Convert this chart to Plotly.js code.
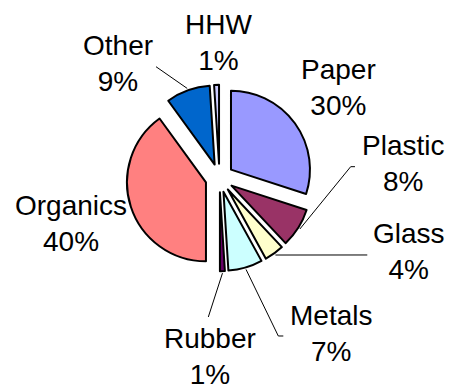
<!DOCTYPE html>
<html>
<head>
<meta charset="utf-8">
<script src="https://cdn.plot.ly/plotly-3.0.1.min.js"></script>
<style>
  html, body { margin: 0; padding: 0; background: #ffffff; }
  #chart { width: 451px; height: 390px; }
</style>
</head>
<body>
<div id="chart"></div>
<script>
// Waste composition by material (percent of total)
const categories = ['Paper', 'Plastic', 'Glass', 'Metals', 'Rubber', 'Organics', 'Other', 'HHW'];
const shares = [30, 8, 4, 7, 1, 40, 9, 1];

// Slice fills, in the same order as the categories
const palette = ['#9999FF', '#993366', '#FFFFCC', '#CCFFFF', '#660066', '#FF8080', '#0066CC', '#CCCCFF'];

const W = 451, H = 390;
const domX = [0.2800, 0.6933];
const domY = [0.3046, 0.7826];
const explode = 0.18;

// Label centres in pixels
const labelPos = {
  HHW: [218, 42],
  Paper: [338, 88],
  Other: [118, 64],
  Organics: [71, 223],
  Plastic: [403, 163],
  Glass: [409, 251],
  Metals: [331, 333],
  Rubber: [210, 356]
};

// Leader lines: points leading away from the slice toward its label (pixels)
const leaderPath = {
  Other: [[156, 66.7]],
  Plastic: [[350.7, 166.7], [355, 166.7]],
  Glass: [[367.3, 255]],
  Metals: [[278.3, 336], [283.3, 336]],
  Rubber: [[208.3, 317]]
};

const total = shares.reduce((a, b) => a + b, 0);
const cx = W * (domX[0] + domX[1]) / 2;
const cy = H * (1 - (domY[0] + domY[1]) / 2);
const r = Math.min(W * (domX[1] - domX[0]), H * (domY[1] - domY[0])) / (2 + 2 * explode);

const px = x => x / W;
const py = y => 1 - y / H;

// Point just outside the exploded slice, along its bisector
function sliceTip(i, gap) {
  let before = 0;
  for (let k = 0; k < i; k++) before += shares[k];
  const mid = (before + shares[i] / 2) / total * 2 * Math.PI;
  const d = r * (1 + explode) + gap;
  return [cx + d * Math.sin(mid), cy - d * Math.cos(mid)];
}

const shapes = [];
categories.forEach((name, i) => {
  if (!leaderPath[name]) return;
  const pts = [sliceTip(i, 2)].concat(leaderPath[name]);
  const path = pts.map((p, j) => (j ? 'L' : 'M') + px(p[0]).toFixed(4) + ',' + py(p[1]).toFixed(4)).join(' ');
  shapes.push({
    type: 'path', xref: 'paper', yref: 'paper', path: path,
    line: { color: '#000000', width: 1 }
  });
});

const annotations = categories.map((name, i) => ({
  xref: 'paper', yref: 'paper',
  x: px(labelPos[name][0]), y: py(labelPos[name][1]),
  xanchor: 'center', yanchor: 'middle',
  text: name + '<br>' + shares[i] + '%',
  showarrow: false,
  font: { family: 'Liberation Sans, Arial, sans-serif', size: 28, color: '#000000' }
}));

const trace = {
  type: 'pie',
  labels: categories,
  values: shares,
  sort: false,
  direction: 'clockwise',
  rotation: 0,
  pull: categories.map(() => explode),
  textinfo: 'none',
  hoverinfo: 'label+percent',
  marker: { colors: palette, line: { color: '#000000', width: 2 } },
  domain: { x: domX, y: domY }
};

const layout = {
  width: W, height: H,
  margin: { l: 0, r: 0, t: 0, b: 0 },
  paper_bgcolor: '#ffffff',
  showlegend: false,
  shapes: shapes,
  annotations: annotations
};

Plotly.newPlot('chart', [trace], layout, { displayModeBar: false, staticPlot: true });
</script>
</body>
</html>
